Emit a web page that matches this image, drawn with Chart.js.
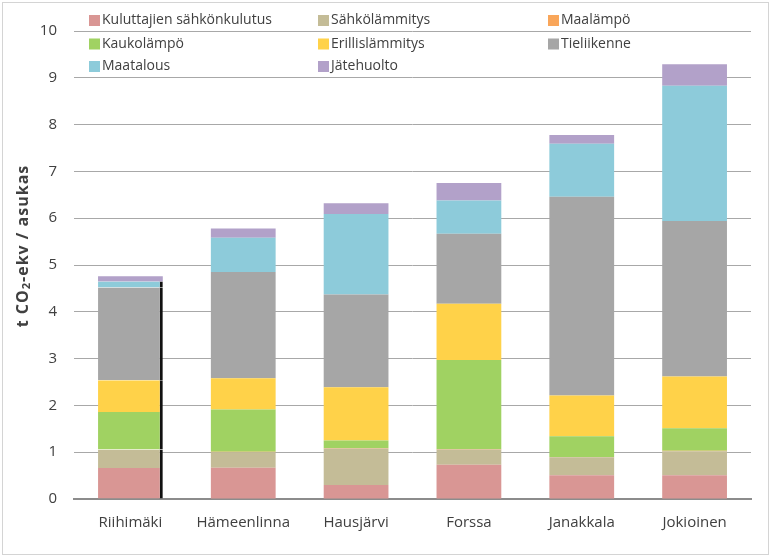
<!DOCTYPE html>
<html>
<head>
<meta charset="utf-8">
<script src="https://cdn.jsdelivr.net/npm/chart.js@4.4.0/dist/chart.umd.min.js"></script>
<style>
html, body { margin: 0; padding: 0; background: #fff; }
#wrap { position: relative; width: 771px; height: 558px; }
</style>
</head>
<body>
<div id="wrap"><canvas id="chart"></canvas></div>
<script>
// data (t CO2-ekv per resident)
const municipalities = ['Riihimäki', 'Hämeenlinna', 'Hausjärvi', 'Forssa', 'Janakkala', 'Jokioinen'];
const sourceNames = ['Kuluttajien sähkönkulutus', 'Sähkölämmitys', 'Maalämpö', 'Kaukolämpö',
    'Erillislämmitys', 'Tieliikenne', 'Maatalous', 'Jätehuolto'];
const kuluttajienSahko = [0.66, 0.67, 0.30, 0.73, 0.51, 0.51];
const sahkolammitys = [0.39, 0.33, 0.78, 0.33, 0.38, 0.51];
const maalampo = [0.01, 0.01, 0.01, 0.01, 0.01, 0.01];
const kaukolampo = [0.80, 0.90, 0.16, 1.90, 0.44, 0.48];
const erillislammitys = [0.68, 0.67, 1.14, 1.20, 0.87, 1.11];
const tieliikenne = [1.98, 2.27, 1.98, 1.50, 4.25, 3.32];
const maatalous = [0.13, 0.73, 1.72, 0.71, 1.13, 2.89];
const jatehuolto = [0.11, 0.20, 0.23, 0.37, 0.19, 0.46];
const yTicks = [0, 1, 2, 3, 4, 5, 6, 7, 8, 9, 10];

const seriesValues = [kuluttajienSahko, sahkolammitys, maalampo, kaukolampo,
    erillislammitys, tieliikenne, maatalous, jatehuolto];
const seriesColors = ['#D99694', '#C4BC97', '#F9A65A', '#A0D262', '#FFD249', '#A6A6A6', '#8DCBDA', '#B2A1C9'];

const FONT = '"Open Sans", "Noto Sans", sans-serif';
const TEXT = '#404040';

// frame round the whole picture
const framePlugin = {
    id: 'frame',
    beforeDraw(chart) {
        const ctx = chart.ctx;
        ctx.save();
        ctx.fillStyle = '#fff';
        ctx.fillRect(0, 0, chart.width, chart.height);
        ctx.strokeStyle = '#d4d4d4';
        ctx.lineWidth = 1;
        ctx.strokeRect(2.5, 2.5, chart.width - 5, chart.height - 6);
        ctx.restore();
    }
};

// y title with a real subscript 2
const axisTitlePlugin = {
    id: 'axisTitle',
    afterDraw(chart) {
        const ctx = chart.ctx;
        const big = 'bold 16px ' + FONT;
        const small = 'bold 11px ' + FONT;
        const parts = [['t CO', big, 0], ['2', small, 4], ['-ekv / asukas', big, 0]];
        ctx.save();
        ctx.translate(23, 246);
        ctx.rotate(-Math.PI / 2);
        ctx.fillStyle = TEXT;
        ctx.textBaseline = 'middle';
        ctx.letterSpacing = '1px';
        let total = 0;
        parts.forEach(p => { ctx.font = p[1]; total += ctx.measureText(p[0]).width; });
        let x = -total / 2;
        parts.forEach(p => {
            ctx.font = p[1];
            ctx.fillText(p[0], x, p[2]);
            x += ctx.measureText(p[0]).width;
        });
        ctx.restore();
    }
};

// three column legend laid over the top of the plot
const legendPlugin = {
    id: 'gridLegend',
    afterDraw(chart) {
        const ctx = chart.ctx;
        const colX = [89, 318, 548];
        const rowY = [20.5, 44, 66.5];
        ctx.save();
        ctx.font = '14px ' + FONT;
        ctx.textBaseline = 'middle';
        chart.data.datasets.forEach((ds, i) => {
            const x = colX[i % 3];
            const y = rowY[Math.floor(i / 3)];
            ctx.fillStyle = ds.backgroundColor;
            ctx.fillRect(x, y - 5.5, 11, 11);
            ctx.fillStyle = TEXT;
            ctx.fillText(ds.label, x + 13, y);
        });
        ctx.restore();
    }
};

const datasets = sourceNames.map((name, i) => ({
    label: name,
    data: seriesValues[i],
    backgroundColor: seriesColors[i],
    borderColor: '#111',
    // dark edge on the right of the first bar, as in the source image
    borderWidth: ctx => (ctx.dataIndex === 0 && i < 7) ? { top: 0, left: 0, bottom: 0, right: 3 } : 0,
    borderSkipped: false,
    barPercentage: 0.574,
    categoryPercentage: 1
}));

new Chart(document.getElementById('chart'), {
    type: 'bar',
    data: { labels: municipalities, datasets: datasets },
    options: {
        responsive: true,
        maintainAspectRatio: false,
        animation: false,
        layout: { padding: { top: 31, right: 20, left: 0, bottom: 0 } },
        plugins: {
            legend: { display: false },
            tooltip: { enabled: false }
        },
        scales: {
            x: {
                stacked: true,
                grid: { display: false, drawTicks: false },
                border: { display: true, color: '#8c8c8c', width: 2 },
                ticks: { color: TEXT, font: { family: FONT, size: 15 }, padding: 15 },
                afterFit: scale => { scale.height = 59; }
            },
            y: {
                stacked: true,
                min: 0,
                max: 10,
                afterBuildTicks: axis => { axis.ticks = yTicks.map(v => ({ value: v })); },
                grid: { color: '#a8a8a8', lineWidth: 1, drawTicks: false },
                border: { display: false },
                ticks: { color: TEXT, font: { family: FONT, size: 15 }, padding: 17 },
                afterFit: scale => { scale.width = 74; }
            }
        }
    },
    plugins: [framePlugin, axisTitlePlugin, legendPlugin]
});
</script>
</body>
</html>
